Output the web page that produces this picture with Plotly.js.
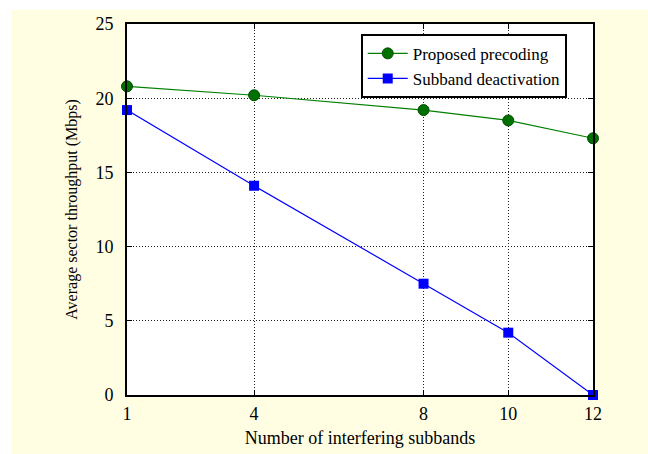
<!DOCTYPE html>
<html><head><meta charset="utf-8">
<script src="https://cdn.plot.ly/plotly-3.0.1.min.js"></script>
<style>body{margin:0;padding:0;background:#FFFFFF}#chart{position:absolute;left:12px;top:10px}</style>
</head><body>
<div id="chart" style="width:636px;height:444px"></div>
<script>
const subbands = [1, 4, 8, 10, 12];
const proposedPrecoding = [20.8, 20.2, 19.2, 18.5, 17.3];
const subbandDeactivation = [19.2, 14.1, 7.5, 4.2, 0];
const xTicks = [1, 4, 8, 10, 12];
const yTicks = [0, 5, 10, 15, 20, 25];

const font = {family: '"Liberation Serif", "Times New Roman", serif', color: '#000'};

const traces = [
  {x: subbands, y: proposedPrecoding, name: 'Proposed precoding', mode: 'lines+markers',
   line: {color: '#008000', width: 1.2},
   marker: {symbol: 'circle', size: 11, color: '#007000', line: {color: '#004d00', width: 1}},
   cliponaxis: false},
  {x: subbands, y: subbandDeactivation, name: 'Subband deactivation', mode: 'lines+markers',
   line: {color: '#0000FF', width: 1.2},
   marker: {symbol: 'square', size: 10, color: '#0000FF', line: {color: '#0000FF', width: 0}},
   cliponaxis: false}
];

const axisCommon = {
  showline: true, linecolor: '#000', linewidth: 1.8, mirror: 'ticks',
  ticks: 'inside', ticklen: 5, tickcolor: '#000', tickwidth: 1,
  showgrid: true, gridcolor: '#222', griddash: '1px,2px', gridwidth: 1,
  zeroline: false, tickfont: Object.assign({size: 18}, font)
};

const layout = {
  width: 636, height: 444,
  paper_bgcolor: '#FFFEE3', plot_bgcolor: '#FFFFFF',
  margin: {l: 115, r: 55, t: 14, b: 59},
  font: font,
  showlegend: true,
  legend: {x: 0.502, y: 0.973, xanchor: 'left', yanchor: 'top',
    bgcolor: '#FFFFFF', bordercolor: '#000', borderwidth: 1.8,
    font: Object.assign({size: 17}, font), tracegroupgap: 0, itemwidth: 40},
  xaxis: Object.assign({}, axisCommon, {
    range: [1, 12], tickvals: xTicks, ticktext: xTicks.map(String),
    ticklabelstandoff: 2,
    title: {text: 'Number of interfering subbands', font: Object.assign({size: 18}, font), standoff: 8}
  }),
  yaxis: Object.assign({}, axisCommon, {
    range: [0, 25], tickvals: yTicks, ticktext: yTicks.map(String),
    ticklabelstandoff: 8,
    title: {text: 'Average sector throughput (Mbps)', font: Object.assign({size: 16}, font), standoff: 14}
  })
};

Plotly.newPlot('chart', traces, layout, {displayModeBar: false, staticPlot: true});
</script>
</body></html>
